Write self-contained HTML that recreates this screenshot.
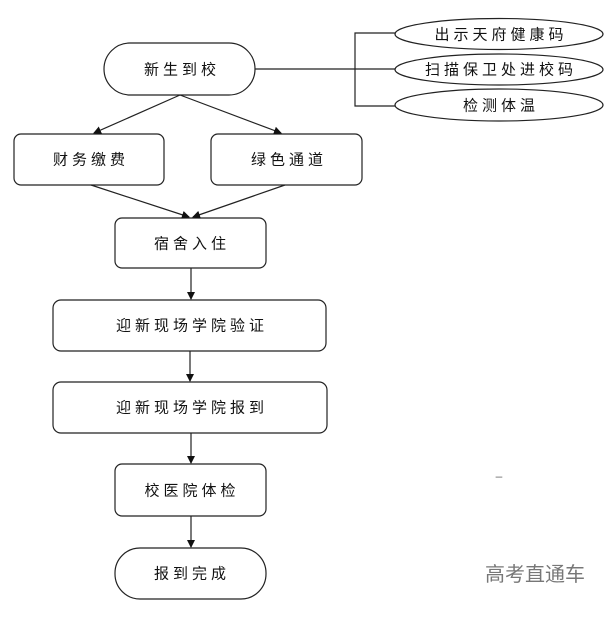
<!DOCTYPE html>
<html><head><meta charset="utf-8"><style>
html,body{margin:0;padding:0;background:#fff;}
svg text{font-family:"Liberation Sans","Noto Sans CJK SC",sans-serif;font-size:15px;fill:#111;text-anchor:middle;dominant-baseline:central;letter-spacing:4px;}
</style></head><body>
<svg width="612" height="614" viewBox="0 0 612 614" xmlns="http://www.w3.org/2000/svg">
<defs><marker id="a" markerWidth="8" markerHeight="8" refX="7" refY="4" orient="auto" markerUnits="userSpaceOnUse"><path d="M0,0 L8,4 L0,8 z" fill="#111"/></marker></defs>
<g fill="#fff" stroke="#222" stroke-width="1.2">
<rect x="104" y="43" width="151" height="52" rx="26"/>
<ellipse cx="499" cy="34" rx="104" ry="15.5"/>
<ellipse cx="499" cy="69.5" rx="104" ry="15.5"/>
<ellipse cx="499" cy="105" rx="104" ry="16"/>
<rect x="14" y="134" width="150" height="51" rx="7"/>
<rect x="211" y="134" width="151" height="51" rx="7"/>
<rect x="115" y="218" width="151" height="50" rx="7"/>
<rect x="53" y="300" width="273" height="51" rx="8"/>
<rect x="53" y="382" width="274" height="51" rx="8"/>
<rect x="115" y="464" width="151" height="52" rx="7"/>
<rect x="115" y="548" width="151" height="51" rx="25"/>
</g>
<g stroke="#222" stroke-width="1.2" fill="none">
<path d="M255,69 H395 M395,33 H355 V106 H395"/>
<line x1="180" y1="95" x2="94" y2="133" marker-end="url(#a)"/>
<line x1="180" y1="95" x2="281" y2="133" marker-end="url(#a)"/>
<line x1="91" y1="185" x2="189" y2="217" marker-end="url(#a)"/>
<line x1="285" y1="185" x2="193" y2="217" marker-end="url(#a)"/>
<line x1="191" y1="268" x2="191" y2="299" marker-end="url(#a)"/>
<line x1="190" y1="351" x2="190" y2="381" marker-end="url(#a)"/>
<line x1="191" y1="433" x2="191" y2="463" marker-end="url(#a)"/>
<line x1="191" y1="516" x2="191" y2="547" marker-end="url(#a)"/>
</g>
<text x="182" y="70">新生到校</text>
<text x="501" y="35">出示天府健康码</text>
<text x="501" y="70">扫描保卫处进校码</text>
<text x="501" y="106">检测体温</text>
<text x="91" y="160">财务缴费</text>
<text x="289" y="160">绿色通道</text>
<text x="192" y="244">宿舍入住</text>
<text x="192" y="326">迎新现场学院验证</text>
<text x="192" y="408">迎新现场学院报到</text>
<text x="192" y="491">校医院体检</text>
<text x="192" y="574">报到完成</text>
<text x="501" y="476" style="font-size:12px;fill:#666">–</text>
<text x="535" y="575" style="font-size:20px;fill:#777;letter-spacing:0">高考直通车</text>
</svg>
</body></html>
